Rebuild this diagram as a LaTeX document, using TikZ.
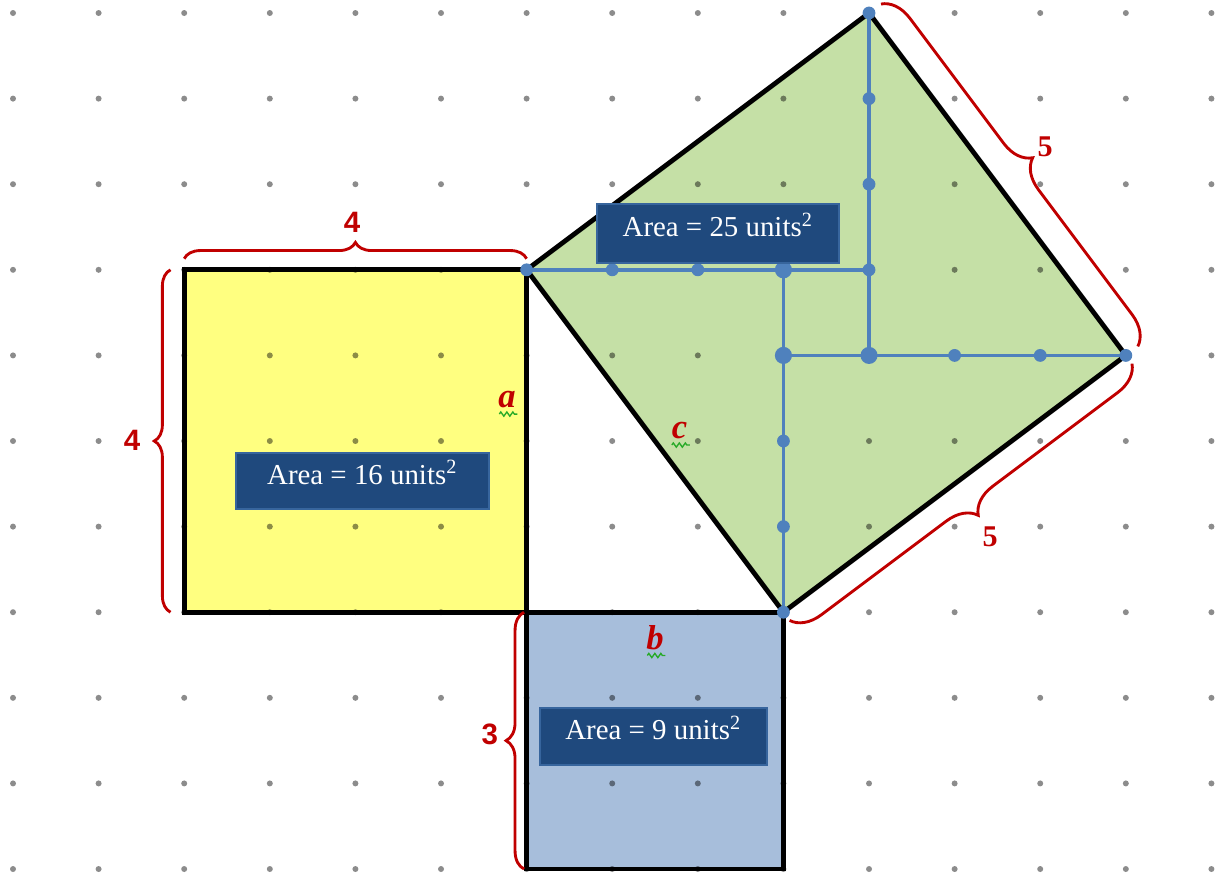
\documentclass[tikz,border=0pt]{standalone}
\usepackage{fontspec}
\setmainfont{Liberation Serif}
\newfontfamily\lsans{Liberation Sans}
\usetikzlibrary{decorations.pathreplacing,decorations.pathmorphing}
\definecolor{yel}{RGB}{255,255,128}
\definecolor{grn}{RGB}{197,224,166}
\definecolor{lblue}{RGB}{167,190,219}
\definecolor{dblue}{RGB}{31,73,125}
\definecolor{mblue}{RGB}{79,129,189}
\definecolor{bred}{RGB}{192,0,0}
\definecolor{squig}{RGB}{40,170,40}
\tikzset{
  outline/.style={draw=black,line width=1.6pt,line join=miter},
  bline/.style={draw=mblue,line width=1.2pt},
  bdot/.style={fill=mblue},
  griddot/.style={fill=black,opacity=0.45},
  areabox/.style={fill=dblue,draw=mblue!50!dblue,line width=0.4pt,text=white,inner sep=0pt,
    text height=2.4mm,text depth=1.6mm,font=\fontsize{9.6}{11}\selectfont},
  brc/.style={draw=bred,line width=0.95pt,decorate},
  sanslab/.style={text=bred,inner sep=0pt,font=\lsans\bfseries\fontsize{9.8}{11}\selectfont},
  seriflab/.style={text=bred,inner sep=0pt,font=\bfseries\fontsize{10}{12}\selectfont},
  letlab/.style={text=bred,inner sep=0pt,font=\bfseries\itshape\fontsize{11.5}{13}\selectfont},
  sqline/.style={draw=squig,line width=0.45pt,decorate,decoration={zigzag,segment length=2pt,amplitude=0.7pt}}
}
\begin{document}
\begin{tikzpicture}
\useasboundingbox (-0.152,-0.082) rectangle (14.112,10.152);
% corner coordinates
\coordinate (Y1) at (2,3); \coordinate (Y2) at (6,3);
\coordinate (Y3) at (6,7); \coordinate (Y4) at (2,7);
\coordinate (B1) at (6,0); \coordinate (B2) at (9,0); \coordinate (B3) at (9,3);
\coordinate (G1) at (6,7); \coordinate (G2) at (10,10);
\coordinate (G3) at (13,6); \coordinate (G4) at (9,3);
% fills
\fill[yel] (Y1) rectangle (Y3);
\fill[lblue] (B1) rectangle (B3);
\fill[grn] (G1) -- (G2) -- (G3) -- (G4) -- cycle;
% grid dots
\foreach \i in {0,...,14} \foreach \j in {0,...,10} \fill[griddot] (\i,\j) circle (0.035);
% outlines
\draw[outline] (Y1) rectangle (Y3);
\draw[outline] (B1) rectangle (B3);
\draw[outline] (G1) -- (G2) -- (G3) -- (G4) -- cycle;
% blue lines inside big square
\draw[bline] (6,7) -- (10,7);
\draw[bline] (10,10) -- (10,6);
\draw[bline] (9,6) -- (13,6);
\draw[bline] (9,7) -- (9,3);
\foreach \p in {(6,7),(7,7),(8,7),(10,7),(10,10),(10,9),(10,8),(11,6),(12,6),(13,6),(9,5),(9,4),(9,3)}
  \fill[bdot] \p circle (0.075);
\foreach \p in {(9,7),(9,6),(10,6)} \fill[bdot] \p circle (0.1);
% area boxes
\node[areabox,minimum width=2.956cm,minimum height=0.654cm] (A16) at (4.083,4.533) {Area = 16 units\textsuperscript{2}};
\node[areabox,minimum width=2.827cm,minimum height=0.69cm] (A25) at (8.236,7.424) {Area = 25 units\textsuperscript{2}};
\node[areabox,minimum width=2.652cm,minimum height=0.666cm] (A9) at (7.482,1.548) {Area = 9 units\textsuperscript{2}};
% braces
\draw[brc,decoration={brace,amplitude=0.19cm,raise=0.13cm}] (Y4) -- (Y3);
\draw[brc,decoration={brace,amplitude=0.19cm,raise=0.16cm}] (Y1) -- (Y4);
\draw[brc,decoration={brace,amplitude=0.21cm,raise=0.03cm}] (B1) -- (Y2);
\draw[brc,decoration={brace,amplitude=0.34cm,raise=0.175cm}] (G2) -- (G3);
\draw[brc,decoration={brace,amplitude=0.34cm,raise=0.12cm}] (G3) -- (G4);
% brace labels
\node[sanslab] (L4t) at (3.96,7.56) {4};
\node[sanslab] (L4l) at (1.39,5.01) {4};
\node[sanslab] (L3) at (5.57,1.57) {3};
\node[seriflab] (L5a) at (12.056,8.435) {5};
\node[seriflab] (L5b) at (11.414,3.879) {5};
% side letters
\node[letlab] (la) at (5.771,5.479) {a};
\node[letlab] (lc) at (7.786,5.117) {c};
\node[letlab] (lb) at (7.5,2.704) {b};
\draw[sqline] ([xshift=-0.09cm,yshift=-0.06cm]la.south) -- ([xshift=0.12cm,yshift=-0.06cm]la.south);
\draw[sqline] ([xshift=-0.09cm,yshift=-0.06cm]lc.south) -- ([xshift=0.12cm,yshift=-0.06cm]lc.south);
\draw[sqline] ([xshift=-0.09cm,yshift=-0.06cm]lb.south) -- ([xshift=0.12cm,yshift=-0.06cm]lb.south);
\end{tikzpicture}
\end{document}
